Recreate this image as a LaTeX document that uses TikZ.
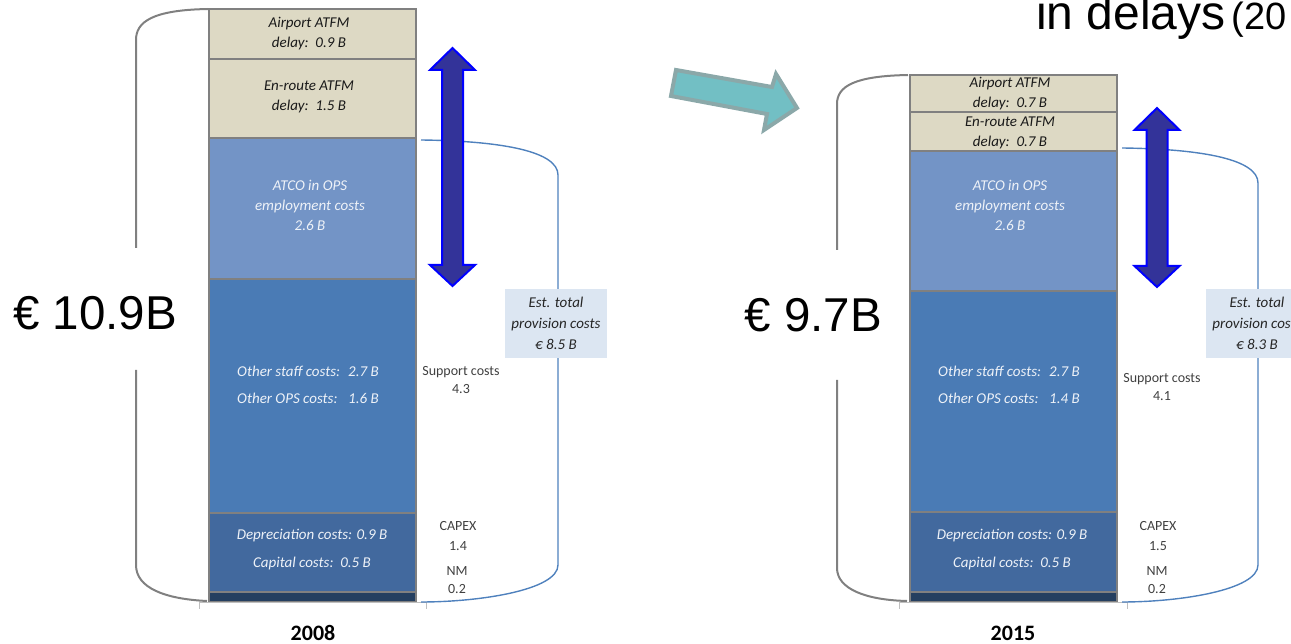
\documentclass[tikz,border=0pt]{standalone}
\usepackage{fontspec}
\setmainfont{Carlito}
\newfontfamily\arialfont{Liberation Sans}
\usetikzlibrary{positioning}

\definecolor{tanbar}{HTML}{DDD9C4}
\definecolor{atcobar}{HTML}{7394C6}
\definecolor{staffbar}{HTML}{4A7BB5}
\definecolor{capexbar}{HTML}{42699E}
\definecolor{nmbar}{HTML}{243F60}
\definecolor{barline}{HTML}{808080}
\definecolor{provblue}{HTML}{4F81BD}
\definecolor{arrowfill}{HTML}{333399}
\definecolor{arrowedge}{HTML}{0000FF}
\definecolor{tealfill}{HTML}{72BFC4}
\definecolor{tealedge}{HTML}{8BA8A9}
\definecolor{boxfill}{HTML}{DCE6F2}
\definecolor{sidegray}{HTML}{404040}

\tikzset{
  seg/.style={draw=barline, line width=1.2pt},
  bartext/.style={font=\fontsize{15}{20}\selectfont\itshape, align=center, inner sep=0pt},
  darktext/.style={bartext, text=black!90},
  lighttext/.style={bartext, text=white!88!atcobar},
  sidetext/.style={font=\fontsize{14}{18.5}\selectfont, text=sidegray, align=center, inner sep=0pt},
  totalbox/.style={fill=boxfill, font=\fontsize{15}{21}\selectfont\itshape, text=black!85,
    align=center, minimum width=102pt, minimum height=69pt, inner sep=0pt},
  bigeuro/.style={font=\arialfont\fontsize{47.5}{47.5}\selectfont, inner sep=0pt},
  yearlabel/.style={font=\fontsize{22}{22}\selectfont\bfseries, inner sep=0pt},
  spanbrace/.style={draw=barline, line width=2pt},
  provbrace/.style={draw=provblue, line width=1.4pt},
  dblarrow/.style={fill=arrowfill, draw=arrowedge, line width=2pt, line join=miter},
  axisline/.style={draw=black!25, line width=1pt},
}

% label then value, values lined up
\newcommand{\costrow}[2]{\makebox[111pt][l]{#1}#2}
% vertical double block arrow: centre x, top tip, bottom tip
\newcommand{\updown}[3]{%
  \draw[dblarrow] (#1,#2) -- ({#1+22.5},{#2+22}) -- ({#1+10.5},{#2+22})
    -- ({#1+10.5},{#3-21}) -- ({#1+22.5},{#3-21}) -- (#1,#3)
    -- ({#1-22.5},{#3-21}) -- ({#1-10.5},{#3-21}) -- ({#1-10.5},{#2+22})
    -- ({#1-22.5},{#2+22}) -- cycle;}

\begin{document}
\begin{tikzpicture}[x=1pt, y=-1pt]
  \clip (0,0) rectangle (1291,644);

  % Title (cut off at the right)
  \node[anchor=base west, font=\arialfont\fontsize{48}{48}\selectfont, inner sep=0pt] (title)
    at (1036,30) {in delays\hspace{6pt}{\fontsize{38}{38}\selectfont(20}};

  % ---------- 2008 ----------
  \draw[seg, fill=tanbar]   (209,9)   rectangle (416,59);
  \draw[seg, fill=tanbar]   (209,59)  rectangle (416,138);
  \draw[seg, fill=atcobar]  (209,138) rectangle (416,279);
  \draw[seg, fill=staffbar] (209,279) rectangle (416,513);
  \draw[seg, fill=capexbar] (209,513) rectangle (416,592);
  \draw[seg, fill=nmbar]    (209,592) rectangle (416,602);

  \draw[axisline] (199,602) -- (426,602);
  \draw[axisline] (199,602) -- (199,609);
  \draw[axisline] (426,602) -- (426,609);

  \node[darktext]  (apt08)   at (309,34)  {Airport ATFM\\delay:\ \ 0.9 B};
  \node[darktext]  (enr08)   at (309,97)  {En-route ATFM\\delay:\ \ 1.5 B};
  \node[lighttext] (atco08)  at (310,205) {ATCO in OPS\\employment costs\\2.6 B};
  \node[lighttext, align=left] (staff08) at (308,385)
    {\costrow{Other staff costs:}{2.7 B}\\[7pt]\costrow{Other OPS costs:}{1.6 B}};
  \node[lighttext] (capex08) at (312,550) {Depreciation costs: 0.9 B\\[8pt]Capital costs:\ \ 0.5 B};

  % span of the total
  \draw[spanbrace] (208,9) .. controls (152,10) and (136,22) .. (136,40) -- (136,248);
  \draw[spanbrace] (136,370) -- (136,565) .. controls (136,588) and (165,599) .. (207,601);
  \node[bigeuro, anchor=base west] (tot08) at (13,330) {€ 10.9B};

  % provision costs
  \draw[provbrace] (421,140) .. controls (505,141) and (558,152) .. (558,175) -- (558,565)
    .. controls (558,590) and (480,602) .. (421,602);
  \updown{452.5}{48}{286}
  \node[totalbox] (prov08) at (556,323.5) {Est. total\\provision costs\\€ 8.5 B};

  \node[sidetext] (sup08) at (461,380) {Support costs\\4.3};
  \node[sidetext, font=\fontsize{14}{20}\selectfont] (cap08) at (458,536) {CAPEX\\1.4};
  \node[sidetext] (nm08)  at (457,580) {NM\\0.2};

  \node[yearlabel] (yr08) at (313,633) {2008};

  % ---------- change ----------
  \draw[fill=tealfill, draw=tealedge, line width=4pt, line join=miter]
    (676,70) -- (772,87) -- (776,74) -- (797,108) -- (764,130) -- (767,114) -- (671,96) -- cycle;

  % ---------- 2015 ----------
  \draw[seg, fill=tanbar]   (910,75)  rectangle (1117,112);
  \draw[seg, fill=tanbar]   (910,112) rectangle (1117,151);
  \draw[seg, fill=atcobar]  (910,151) rectangle (1117,291);
  \draw[seg, fill=staffbar] (910,291) rectangle (1117,512);
  \draw[seg, fill=capexbar] (910,512) rectangle (1117,592);
  \draw[seg, fill=nmbar]    (910,592) rectangle (1117,602);

  \draw[axisline] (899,602) -- (1127,602);
  \draw[axisline] (899,602) -- (899,609);
  \draw[axisline] (1127,602) -- (1127,609);

  \node[darktext]  (apt15)   at (1010,94)  {Airport ATFM\\delay:\ \ 0.7 B};
  \node[darktext]  (enr15)   at (1010,133) {En-route ATFM\\delay:\ \ 0.7 B};
  \node[lighttext] (atco15)  at (1010,205) {ATCO in OPS\\employment costs\\2.6 B};
  \node[lighttext, align=left] (staff15) at (1009,385)
    {\costrow{Other staff costs:}{2.7 B}\\[7pt]\costrow{Other OPS costs:}{1.4 B}};
  \node[lighttext] (capex15) at (1012,550) {Depreciation costs: 0.9 B\\[8pt]Capital costs:\ \ 0.5 B};

  \draw[spanbrace] (908,75) .. controls (855,76) and (837,86) .. (837,104) -- (837,250);
  \draw[spanbrace] (837,380) -- (837,568) .. controls (837,589) and (866,600) .. (907,601);
  \node[bigeuro, anchor=base east] (tot15) at (882,332) {€ 9.7B};

  \draw[provbrace] (1122,148) .. controls (1205,149) and (1258,160) .. (1258,183) -- (1258,565)
    .. controls (1258,590) and (1180,602) .. (1122,602);
  \updown{1157}{108}{287}
  \node[totalbox] (prov15) at (1257,323.5) {Est. total\\provision costs\\€ 8.3 B};

  \node[sidetext] (sup15) at (1162,387) {Support costs\\4.1};
  \node[sidetext, font=\fontsize{14}{20}\selectfont] (cap15) at (1158,536) {CAPEX\\1.5};
  \node[sidetext] (nm15)  at (1157,580) {NM\\0.2};

  \node[yearlabel] (yr15) at (1013,633) {2015};
\end{tikzpicture}
\end{document}
